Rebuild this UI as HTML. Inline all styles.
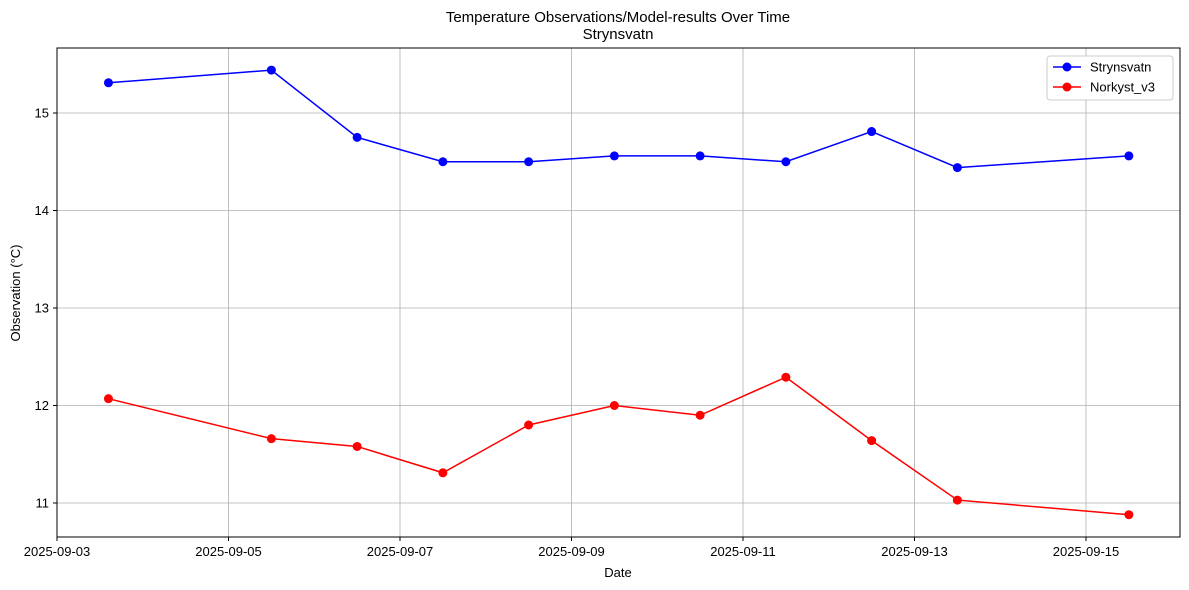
<!DOCTYPE html>
<html><head><meta charset="utf-8"><style>
body{margin:0;background:#fff}
svg{display:block;font-family:"Liberation Sans",sans-serif}
</style></head><body>
<svg id="c" width="1189" height="590">
<text x="618" y="22" font-size="15" text-anchor="middle">Temperature Observations/Model-results Over Time</text>
<text x="618" y="39" font-size="15" text-anchor="middle">Strynsvatn</text>
<g id="grid"></g>
<g id="ticks"></g>
<g id="series"></g>
<rect x="57" y="48" width="1123" height="489" fill="none" stroke="#000" stroke-width="1"/>
<text x="618" y="577" font-size="13" text-anchor="middle">Date</text>
<text transform="translate(20,293) rotate(-90)" font-size="13" text-anchor="middle">Observation (°C)</text>
<g>
<rect x="1047" y="56" width="126" height="44" fill="#fff" stroke="#ccc" rx="3"/>
<line x1="1053" y1="67" x2="1081" y2="67" stroke="blue" stroke-width="1.5"/><circle cx="1067" cy="67" r="4.5" fill="blue"/>
<text x="1090" y="71.5" font-size="13">Strynsvatn</text>
<line x1="1053" y1="87" x2="1081" y2="87" stroke="red" stroke-width="1.5"/><circle cx="1067" cy="87" r="4.5" fill="red"/>
<text x="1090" y="91.5" font-size="13">Norkyst_v3</text>
</g>
</svg>
<script>
const dayOffsets=[0.6,2.5,3.5,4.5,5.5,6.5,7.5,8.5,9.5,10.5,12.5]; // days since 2025-09-03 00:00
const strynsvatn=[15.31,15.44,14.75,14.50,14.50,14.56,14.56,14.50,14.81,14.44,14.56];
const norkyst=[12.07,11.66,11.58,11.31,11.80,12.00,11.90,12.29,11.64,11.03,10.88];
const xTickLabels=["2025-09-03","2025-09-05","2025-09-07","2025-09-09","2025-09-11","2025-09-13","2025-09-15"];
const yTickValues=[11,12,13,14,15];
const NS="http://www.w3.org/2000/svg";
const X=d=>57+d*85.75;
const Y=v=>503-(v-11)*97.5;
const grid=document.getElementById('grid'),ticks=document.getElementById('ticks'),ser=document.getElementById('series');
function mk(tag,attrs,parent){const e=document.createElementNS(NS,tag);for(const k in attrs)e.setAttribute(k,attrs[k]);parent.appendChild(e);return e;}
xTickLabels.forEach((l,i)=>{const x=X(i*2);
 if(i>0){const g=mk('line',{x1:x,x2:x,y1:48,y2:537,stroke:'#b0b0b0','stroke-width':0.8},grid);
 
 }
 mk('line',{x1:x,x2:x,y1:537,y2:541,stroke:'#000'},ticks);
 const t=mk('text',{x:x,y:556,'font-size':13,'text-anchor':'middle'},ticks);t.textContent=l;
 
 });
yTickValues.forEach(v=>{const y=Y(v);
 const g=mk('line',{x1:57,x2:1180,y1:y,y2:y,stroke:'#b0b0b0','stroke-width':0.8},grid);
 
 
 mk('line',{x1:53,x2:57,y1:y,y2:y,stroke:'#000'},ticks);
 const t=mk('text',{x:49,y:y+4.5,'font-size':13,'text-anchor':'end'},ticks);t.textContent=v;
 
 });
function draw(vals,color,name){
 const p=mk('polyline',{points:vals.map((v,i)=>X(dayOffsets[i])+','+Y(v)).join(' '),fill:'none',stroke:color,'stroke-width':1.5},ser);
 
 
 vals.forEach((v,i)=>{const c=mk('circle',{cx:X(dayOffsets[i]),cy:Y(v),r:4.5,fill:color},ser);
  
  });
}
draw(strynsvatn,'blue','strynsvatn');
draw(norkyst,'red','norkyst');
</script>
</body></html>
